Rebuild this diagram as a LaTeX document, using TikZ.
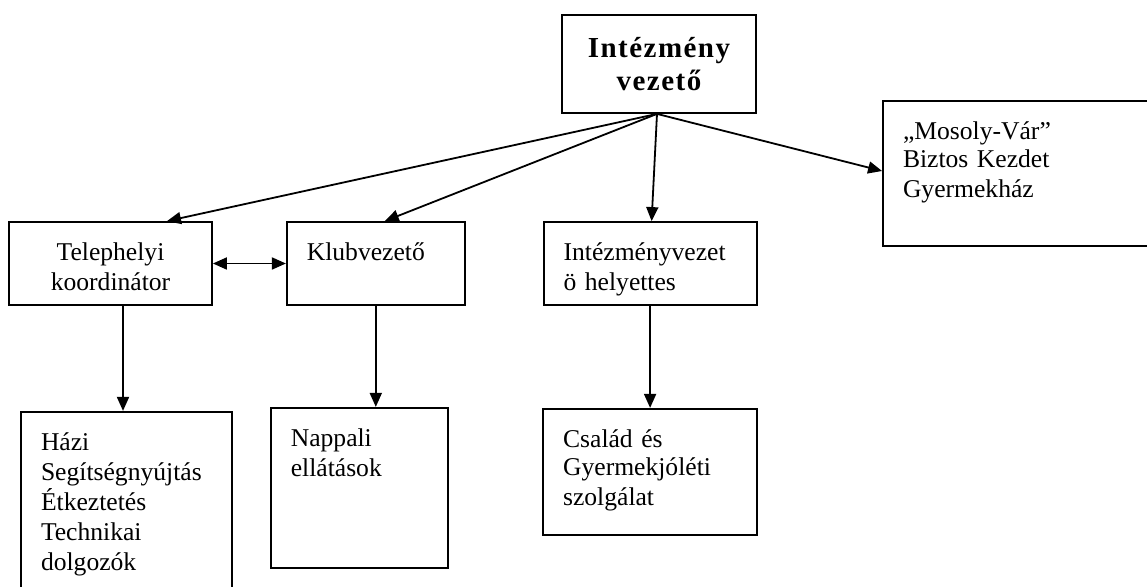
\documentclass[tikz,border=0pt]{standalone}
\usepackage{fontspec}
\setmainfont{Liberation Serif}
\usepackage{tikz}
\usetikzlibrary{arrows.meta, positioning, calc}

\tikzset{
  box/.style={rectangle, draw, line width=0.9pt, inner xsep=10pt, inner ysep=8pt,
    align=left, text height=11.5pt},
  title/.style={rectangle, draw, line width=0.9pt, inner sep=0pt, align=center,
    font=\bfseries\fontsize{14.5}{16.5}\selectfont\addfontfeature{LetterSpace=5}}
}

\begin{document}
\begin{tikzpicture}[>={Triangle[length=7pt,width=6pt]}, line width=0.9pt,
    font=\fontsize{12.8}{15}\selectfont]
  \clip (0,0) rectangle (573.5pt,-293.5pt);

  % top level
  \node (top) [title, minimum width=97pt, minimum height=49pt] at (329.5pt,-32pt) {Intézmény\\vezető};
  \node (mosoly) [box, text width=121pt, text depth=45pt] at (512pt,-86.75pt)
    {\fontsize{12.8}{14}\selectfont „Mosoly-Vár”\\Biztos Kezdet\\Gyermekház};

  % middle row
  \node (tel) [box, align=center, text width=81.5pt, text depth=14pt] at (55.25pt,-131.75pt)
    {\fontsize{12.8}{16}\selectfont Telephelyi\\koordinátor};
  \node (klub) [box, right=36.5pt of tel, text width=69pt, text depth=14pt] {Klubvezető};
  \node (hely) [box, right=38.5pt of klub, text width=86.5pt, text depth=14pt]
    {\fontsize{12.8}{14.5}\selectfont Intézményvezet\\ö helyettes};

  % bottom row
  \node (hazi) [box, below=52.5pt of tel, xshift=8pt, text width=85.5pt, text depth=72.5pt]
    {Házi\\Segítségnyújtás\\Étkeztetés\\Technikai\\dolgozók};
  \node (nappali) [box, below=50.5pt of klub, xshift=-8.25pt, text width=68.5pt, text depth=52.5pt]
    {Nappali\\ellátások};
  \node (csalad) [box, below=51pt of hely, text width=87pt, text depth=35.5pt]
    {\fontsize{12.8}{14}\selectfont Család és\\Gyermekjóléti\\szolgálat};

  \draw[->] ([xshift=-1pt]top.south) -- ([xshift=28.25pt]tel.north);
  \draw[->] ([xshift=-1pt]top.south) -- ([xshift=4.5pt]klub.north);
  \draw[->] ([xshift=-1pt]top.south) -- ([xshift=0.75pt]hely.north);
  \draw[->] ([xshift=-1pt]top.south) -- ([yshift=1.25pt]mosoly.west);

  \draw[<->] (tel) -- (klub);

  \draw[->] ([xshift=6.25pt]tel.south) -- ([xshift=6.25pt]tel.south |- hazi.north);
  \draw[->] (klub.south) -- (klub.south |- nappali.north);
  \draw[->] (hely.south) -- (hely.south |- csalad.north);
\end{tikzpicture}
\end{document}
